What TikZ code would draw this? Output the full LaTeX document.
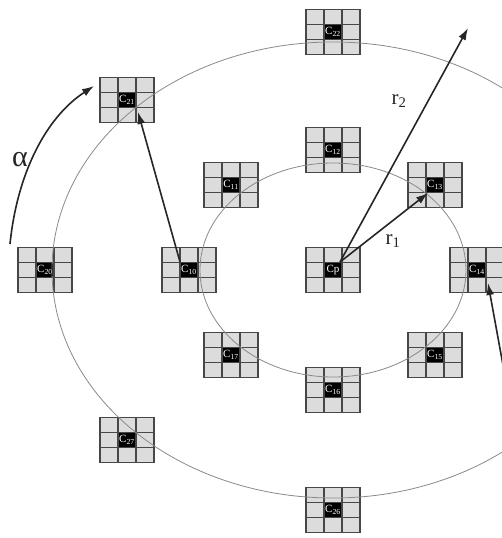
\documentclass[tikz,border=0pt]{standalone}
\usepackage{fontspec}
\setmainfont{Liberation Serif}
\usepackage{tikz}
\usetikzlibrary{arrows.meta,calc}
\definecolor{cellgray}{HTML}{DCDCDC}
\definecolor{gridgray}{HTML}{474747}
\definecolor{ringgray}{HTML}{8A8A8A}
\definecolor{arrowdark}{HTML}{262626}

\begin{document}
\begin{tikzpicture}[x=1pt, y=-1pt,
  cellgrid/.style={rectangle, minimum width=54pt, minimum height=45pt, inner sep=0pt,
    fill=cellgray, draw=gridgray, line width=1.3pt, text=white,
    font=\fontsize{11}{11}\selectfont,
    path picture={
      \fill[black] ([shift={(-9pt,-7.5pt)}]path picture bounding box.center)
        rectangle ([shift={(9pt,7.5pt)}]path picture bounding box.center);
      \foreach \d in {-9,9}
        \draw[gridgray, line width=1.3pt] ([shift={(\d pt,-30pt)}]path picture bounding box.center)
          -- ([shift={(\d pt,30pt)}]path picture bounding box.center);
      \foreach \d in {-7.5,7.5}
        \draw[gridgray, line width=1.3pt] ([shift={(-30pt,\d pt)}]path picture bounding box.center)
          -- ([shift={(30pt,\d pt)}]path picture bounding box.center);
    }},
  ring/.style={draw=ringgray, line width=0.8pt},
  vec/.style={-{Latex[length=12pt,width=8pt]}, line width=1.6pt, draw=arrowdark},
  lbl/.style={font=\fontsize{21}{21}\selectfont, text=arrowdark, inner sep=1pt}
]
  \useasboundingbox (0,0) rectangle (502,538);
  \fill[white] (0,0) rectangle (502,538);
  \clip (0,0) rectangle (502,538);

  % centre cell and inner ring
  \node[cellgrid] (cp) at (333,270) {Cp};
  \node[cellgrid] (c10) at (189,270) {C\textsubscript{10}};
  \node[cellgrid] (c11) at (231,185) {C\textsubscript{11}};
  \node[cellgrid] (c12) at (333,150) {C\textsubscript{12}};
  \node[cellgrid] (c13) at (435,185) {C\textsubscript{13}};
  \node[cellgrid] (c14) at (477,270) {C\textsubscript{14}};
  \node[cellgrid] (c15) at (435,355) {C\textsubscript{15}};
  \node[cellgrid] (c16) at (333,390) {C\textsubscript{16}};
  \node[cellgrid] (c17) at (231,355) {C\textsubscript{17}};

  % outer ring
  \node[cellgrid] (c20) at (45,270) {C\textsubscript{20}};
  \node[cellgrid] (c21) at (127,100) {C\textsubscript{21}};
  \node[cellgrid] (c22) at (333,32) {C\textsubscript{22}};
  \node[cellgrid] (c26) at (333,510) {C\textsubscript{26}};
  \node[cellgrid] (c27) at (127,440) {C\textsubscript{27}};

  \draw[ring] (cp.center) ellipse [x radius=133pt, y radius=107pt];
  \draw[ring] (cp.center) ellipse [x radius=281pt, y radius=228pt];

  \coordinate (r2tip) at (468,28);
  \coordinate (c25) at (513,420);
  \coordinate (sweepa) at (10,244);
  \coordinate (sweepb) at (94,86);

  \draw[vec] ([shift={(7pt,8pt)}]cp.center) -- ([shift={(-7pt,-8pt)}]c13.center);
  \draw[vec] ([shift={(7pt,8pt)}]cp.center) -- (r2tip);
  \draw[vec] ([shift={(-9pt,8pt)}]c10.center) -- ([shift={(11pt,-12pt)}]c21.center);
  \draw[vec] (c25) -- ([shift={(11pt,-13pt)}]c14.center);
  \draw[vec] (sweepa) .. controls (17,175) and (45,118) .. (sweepb);

  \node[lbl] (rone) at (393,241) {r\textsubscript{1}};
  \node[lbl] (rtwo) at (399,101) {r\textsubscript{2}};
  \node[lbl, font=\fontsize{30}{30}\selectfont] (alpha) at (20,160) {α};
\end{tikzpicture}
\end{document}
